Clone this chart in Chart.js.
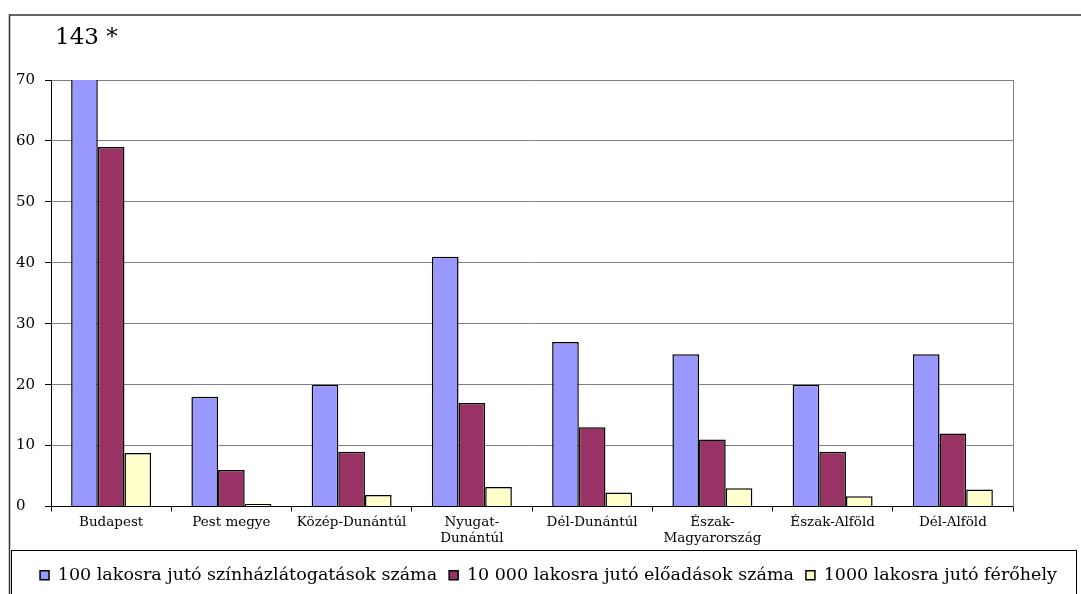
<!DOCTYPE html>
<html>
<head>
<meta charset="utf-8">
<script src="https://cdn.jsdelivr.net/npm/chart.js@4.4.1/dist/chart.umd.min.js"></script>
<style>
  html, body { margin: 0; padding: 0; background: #fff; }
  #wrap { width: 1081px; height: 594px; position: relative; }
</style>
</head>
<body>
<div id="wrap"><canvas id="chart"></canvas></div>
<script>
// --- Data ---
const categories = ['Budapest', 'Pest megye', 'Közép-Dunántúl', ['Nyugat-', 'Dunántúl'], 'Dél-Dunántúl',
    ['Észak-', 'Magyarország'], 'Észak-Alföld', 'Dél-Alföld'];
const seriesLabels = [
    '100 lakosra jutó színházlátogatások száma',
    '10 000 lakosra jutó előadások száma',
    '1000 lakosra jutó férőhely'
];
const visits = [143, 18, 20, 41, 27, 25, 20, 25];
const performances = [59, 6, 9, 17, 13, 11, 9, 12];
const seats = [8.8, 0.4, 1.9, 3.2, 2.3, 3.0, 1.7, 2.8];
const yMin = 0, yMax = 70, yStep = 10;
const noteText = '143 *'; // Budapest value is cut off at the top

const FONT = "'DejaVu Serif', serif";
Chart.defaults.font.family = FONT;
Chart.defaults.color = '#000';

// outer frame, legend box and the note above the cut bar
const framePlugin = {
    id: 'frame',
    afterDraw(chart) {
        const ctx = chart.ctx;
        ctx.save();
        ctx.strokeStyle = '#333';
        ctx.lineWidth = 1.5;
        ctx.beginPath();
        ctx.moveTo(9.5, chart.height);
        ctx.lineTo(9.5, 15);
        ctx.lineTo(chart.width, 15);
        ctx.stroke();

        ctx.strokeStyle = '#000';
        ctx.lineWidth = 1;
        ctx.strokeRect(11.5, 550.5, 1065, 60);

        ctx.fillStyle = '#000';
        ctx.font = '23px ' + FONT;
        ctx.textBaseline = 'alphabetic';
        ctx.fillText(noteText, 55, 44);
        ctx.restore();
    }
};

new Chart(document.getElementById('chart'), {
    type: 'bar',
    data: {
        labels: categories,
        datasets: [
            { label: seriesLabels[0], data: visits, backgroundColor: '#9999ff' },
            { label: seriesLabels[1], data: performances, backgroundColor: '#993366' },
            { label: seriesLabels[2], data: seats, backgroundColor: '#ffffcc' }
        ].map(d => Object.assign(d, { borderColor: '#000', borderWidth: 1.5 }))
    },
    options: {
        responsive: true,
        maintainAspectRatio: false,
        animation: false,
        layout: { padding: { left: 16, right: 0, top: 80, bottom: 0 } },
        datasets: { bar: { categoryPercentage: 0.665, barPercentage: 1 } },
        plugins: {
            tooltip: { enabled: false },
            legend: {
                position: 'bottom',
                labels: {
                    boxWidth: 9,
                    boxHeight: 9,
                    padding: 12,
                    font: { size: 17.5 },
                    color: '#000'
                }
            }
        },
        scales: {
            x: {
                grid: { drawOnChartArea: false, drawTicks: true, tickLength: 5, color: '#000', offset: true },
                border: { color: '#000' },
                ticks: { font: { size: 13.5 }, color: '#000', maxRotation: 0, autoSkip: false, padding: 3 },
                afterFit: s => { s.height = 48; }
            },
            y: {
                min: yMin,
                max: yMax,
                ticks: { stepSize: yStep, font: { size: 15 }, color: '#000', crossAlign: 'far', padding: 8 },
                grid: { color: '#808080', tickLength: 6, tickColor: '#000' },
                border: { color: '#000' },
                afterFit: s => { s.width = 35; }
            },
            yRight: {
                position: 'right',
                min: yMin,
                max: yMax,
                grid: { display: false },
                ticks: { display: false },
                border: { color: '#808080' },
                afterFit: s => { s.width = 68; }
            }
        }
    },
    plugins: [framePlugin]
});
</script>
</body>
</html>
